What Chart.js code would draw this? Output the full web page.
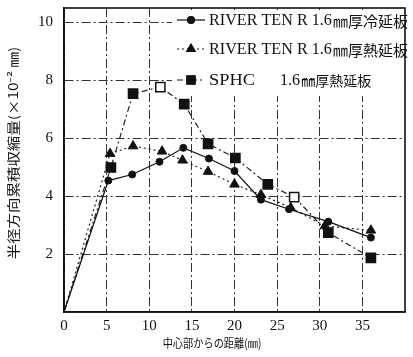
<!DOCTYPE html>
<html><head><meta charset="utf-8">
<script src="https://cdn.jsdelivr.net/npm/chart.js@4"></script>
<style>html,body{margin:0;padding:0;background:#fff}#wrap{width:413px;height:357px}</style>
</head><body><div id="wrap"><canvas id="c" width="413" height="357"></canvas></div>
<script>
const seriesNames = ["RIVER TEN R 1.6㎜厚冷延板", "RIVER TEN R 1.6㎜厚熱延板", "SPHC　1.6㎜厚熱延板"];
const coldX = [0, 5.2, 8.0, 11.2, 14.0, 17.0, 20.0, 23.1, 26.4, 31.0, 36.0];
const coldY = [0, 4.54, 4.75, 5.19, 5.67, 5.30, 4.87, 3.88, 3.55, 3.12, 2.57];
const hotX  = [0, 5.4, 8.1, 11.5, 13.9, 16.9, 20.0, 23.1, 26.6, 30.6, 36.0];
const hotY  = [0, 5.47, 5.73, 5.55, 5.24, 4.85, 4.41, 4.05, 3.60, 2.97, 2.82];
const sphcX = [0, 5.5, 8.1, 11.3, 14.1, 16.9, 20.1, 23.9, 27.0, 31.0, 36.0];
const sphcY = [0, 4.99, 7.54, 7.77, 7.18, 5.81, 5.32, 4.41, 3.97, 2.74, 1.87];
const xTicks = [0, 5, 10, 15, 20, 25, 30, 35];
const yTicks = [2, 4, 6, 8, 10];
const xTitle = "中心部からの距離(㎜)";
const yTitle = "半径方向累積収縮量(×10⁻² ㎜)";

const pts = (xs, ys) => xs.map((x, i) => ({x: x, y: ys[i]}));
const serif = "'Liberation Serif','DejaVu Serif','Noto Sans CJK JP',serif";
const jp = "'Noto Sans CJK JP','Noto Sans',sans-serif";

const datasets = [
  {label: seriesNames[0], data: pts(coldX, coldY), borderColor: '#111', backgroundColor: '#111',
   borderWidth: 1.2, pointStyle: 'circle', pointRadius: 3.5, pointBorderWidth: 1,
   pointBackgroundColor: '#111', pointBorderColor: '#111', borderDash: []},
  {label: seriesNames[1], data: pts(hotX, hotY), borderColor: '#222', backgroundColor: '#111',
   borderWidth: 1.2, pointStyle: 'triangle', pointRadius: 5.5, pointBorderWidth: 1,
   pointBackgroundColor: '#111', pointBorderColor: '#111', borderDash: [2, 3]},
  {label: seriesNames[2], data: pts(sphcX, sphcY), borderColor: '#222', backgroundColor: '#111',
   borderWidth: 1.2, pointStyle: 'rect', pointRadius: 6.5, pointBorderWidth: 1.5,
   pointBackgroundColor: ['#111','#111','#111','#fff','#111','#111','#111','#111','#fff','#111','#111'],
   pointBorderColor: '#111', borderDash: [6, 3, 2, 3]}
];
datasets.forEach(d => { d.pointRadius = d.data.map((p, i) => i === 0 ? 0 : d.pointRadius); });

function drawMixed(ctx, text, x, y, cjkSize) {
  // latin part in serif (slightly condensed), CJK part (from ㎜) in CJK font
  const k = text.indexOf('㎜');
  const latin = k >= 0 ? text.slice(0, k) : text;
  const cjk = k >= 0 ? text.slice(k) : '';
  const sx = 0.95;
  ctx.font = "17px 'Liberation Serif','DejaVu Serif',serif";
  ctx.save();
  ctx.translate(x, y);
  ctx.scale(sx, 1);
  ctx.fillText(latin, 0, 0);
  ctx.restore();
  const w = ctx.measureText(latin).width * sx;
  ctx.font = cjkSize + "px " + jp;
  ctx.fillText(cjk, x + w + 1, y);
}

const deco = {
  id: 'deco',
  beforeDatasetsDraw(chart) {
    const {ctx, chartArea: a} = chart;
    ctx.save();
    ctx.fillStyle = '#fff';
    ctx.fillRect(172, a.top + 2, a.right - 172 - 1, 86);
    ctx.restore();
  },
  afterDraw(chart) {
    const {ctx, chartArea: a} = chart;
    ctx.save();
    ctx.strokeStyle = '#111';
    ctx.lineWidth = 1.6;
    ctx.strokeRect(a.left, a.top, a.right - a.left, a.bottom - a.top);
    // legend
    const rows = [20, 49, 80];
    chart.data.datasets.forEach((d, i) => {
      const y = rows[i];
      ctx.save();
      ctx.strokeStyle = '#111';
      ctx.lineWidth = 1.2;
      ctx.setLineDash(d.borderDash);
      ctx.beginPath(); ctx.moveTo(177, y); ctx.lineTo(205, y); ctx.stroke();
      ctx.setLineDash([]);
      ctx.fillStyle = '#111';
      const r = i === 0 ? 3.5 : i === 1 ? 5 : 6;
      Chart.helpers.drawPoint(ctx, {pointStyle: d.pointStyle, radius: r, borderWidth: 1}, 191, y);
      ctx.fill();
      ctx.restore();
      ctx.save();
      ctx.fillStyle = '#111';
      ctx.textBaseline = 'middle';
      const parts = d.label.split('　');
      if (parts.length > 1) {
        ctx.save();
        ctx.translate(209, y + 1);
        ctx.scale(1.08, 1);
        ctx.font = "17px 'Liberation Serif','DejaVu Serif',serif";
        ctx.fillText(parts[0], 0, 0);
        ctx.restore();
        drawMixed(ctx, parts[1], 280, y + 1, 14);
      } else {
        drawMixed(ctx, d.label, 209, y + 1, 15);
      }
      ctx.restore();
    });
    // titles
    ctx.fillStyle = '#111';
    ctx.textAlign = 'center';
    ctx.textBaseline = 'middle';
    ctx.save();
    ctx.font = "12px " + jp;
    ctx.translate(212, 343);
    ctx.scale(0.85, 1);
    ctx.fillText(xTitle, 0, 0);
    ctx.restore();
    ctx.save();
    ctx.font = "15px " + jp;
    ctx.translate(13, 153);
    ctx.rotate(-Math.PI / 2);
    ctx.scale(1.03, 0.85);
    ctx.fillText(yTitle, 0, 0);
    ctx.restore();
    ctx.restore();
  }
};

new Chart(document.getElementById('c'), {
  type: 'line',
  data: {datasets: datasets},
  options: {
    responsive: false, animation: false, devicePixelRatio: 1,
    layout: {padding: {top: 3, right: 6, left: 0, bottom: 0}},
    plugins: {legend: {display: false}, tooltip: {enabled: false}},
    scales: {
      x: {type: 'linear', min: 0, max: 40,
        afterBuildTicks: s => { s.ticks = xTicks.map(v => ({value: v})); },
        afterFit: s => { s.height = 45; s.paddingLeft = 0; s.paddingRight = 0; },
        grid: {color: '#333', lineWidth: 1, drawTicks: false},
        border: {display: true, color: '#111', width: 1.6, dash: [9, 3, 2, 3]},
        ticks: {color: '#111', padding: 5, font: {family: serif, size: 15}, maxRotation: 0}
      },
      y: {type: 'linear', min: 0, max: 10.5,
        afterBuildTicks: s => { s.ticks = yTicks.map(v => ({value: v})); },
        afterFit: s => { s.width = 64; s.paddingTop = 0; s.paddingBottom = 0; },
        grid: {color: '#333', lineWidth: 1, drawTicks: false},
        border: {display: true, color: '#111', width: 1.6, dash: [9, 3, 2, 3]},
        ticks: {color: '#111', padding: 11, font: {family: serif, size: 15}}
      }
    }
  },
  plugins: [deco]
});
</script></body></html>
